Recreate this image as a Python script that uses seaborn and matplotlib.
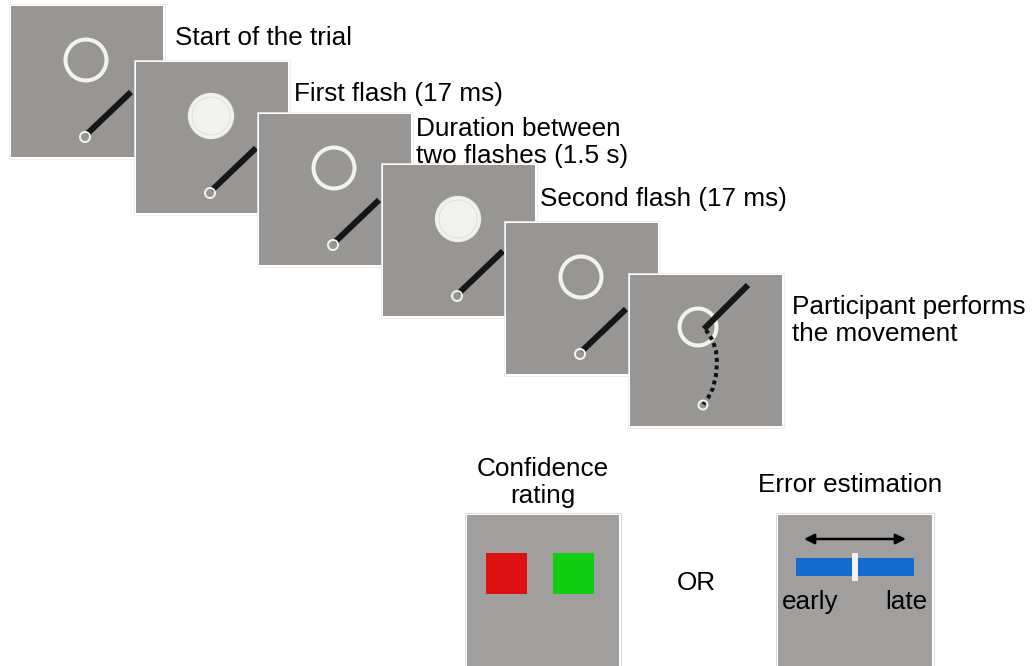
import numpy as np
import matplotlib
matplotlib.use("Agg")
import matplotlib.pyplot as plt
import seaborn as sns
from matplotlib.patches import Rectangle, Circle, FancyArrowPatch

# trial stages, in order of appearance
stage_labels = ["Start of the trial", "First flash (17 ms)",
                "Duration between\ntwo flashes (1.5 s)", "Second flash (17 ms)",
                "", "Participant performs\nthe movement"]
stage_target = ["ring", "disk", "ring", "disk", "ring", "ring_moved"]

# response screens
response_titles = ["Confidence\nrating", "Error estimation"]
confidence_colors = ["#dd1111", "#11cd11"]
scale_labels = ["early", "late"]

# hand path in last frame (panel-relative pixels)
path_x = [76, 83, 86, 87, 86, 83, 78, 73]
path_y = [55, 66, 76, 87, 100, 113, 123, 130]

# layout (pixels)
W, H = 1032, 666
panel_x = [11, 136, 259, 383, 506, 630]
panel_y = [6, 62, 114, 165, 223, 275]
label_x = [175, 294, 416, 540, None, 792]
label_base = [45, 101, 136, 206, None, 314]
PS = 152
GRAY = "#979694"
LIGHT = "#f3f3ee"
FS = 18.8
px = 72 / 100  # points per pixel

sns.set_theme(style="white")
plt.rcParams["font.family"] = ["Liberation Sans", "DejaVu Sans"]
plt.rcParams["text.color"] = "black"

fig = plt.figure(figsize=(W / 100, H / 100), dpi=100)
ax = fig.add_axes([0, 0, 1, 1])
ax.set_xlim(0, W)
ax.set_ylim(H, 0)
ax.axis("off")


def panel(x0, y0, w, h, color=GRAY, edge="#e6e6e6"):
    ax.add_patch(Rectangle((x0 - 2, y0 - 2), w + 4, h + 4, facecolor="white",
                           edgecolor=edge, lw=0.5, zorder=z[0]))
    ax.add_patch(Rectangle((x0, y0), w, h, facecolor=color, edgecolor="none",
                           zorder=z[0] + 0.1))


z = [1]
for i, kind in enumerate(stage_target):
    x0, y0 = panel_x[i], panel_y[i]
    panel(x0, y0, PS, PS - 1)
    zz = z[0] + 0.2
    if kind == "ring_moved":
        cx, cy = x0 + 68, y0 + 52
        ax.add_patch(Circle((cx, cy), 18.5, fill=False, edgecolor=LIGHT,
                            lw=4 * px, zorder=zz))
        ax.plot([x0 + p for p in path_x], [y0 + p for p in path_y],
                color="#111111", lw=4 * px, ls=(0, (1, 0.9)),
                solid_capstyle="butt", dash_capstyle="butt", zorder=zz + 0.1)
        ax.plot([x0 + 74, x0 + 118], [y0 + 54, y0 + 10], color="#161616",
                lw=6 * px, solid_capstyle="butt", zorder=zz + 0.2)
        ax.add_patch(Circle((x0 + 73, y0 + 130), 4.5, fill=False,
                            edgecolor=LIGHT, lw=2 * px, zorder=zz + 0.3))
    else:
        cx, cy = x0 + 75, y0 + 54
        if kind == "ring":
            ax.add_patch(Circle((cx, cy), 20.5, fill=False, edgecolor=LIGHT,
                                lw=4 * px, zorder=zz))
        else:
            ax.add_patch(Circle((cx, cy), 22.5, facecolor="#f2f2f1",
                                edgecolor="#ecece6", lw=1, zorder=zz))
            ax.add_patch(Circle((cx, cy), 19, fill=False, edgecolor="#d9d9d2",
                                lw=0.5, zorder=zz + 0.05))
        ax.plot([x0 + 76, x0 + 120], [y0 + 128, y0 + 86], color="#161616",
                lw=6 * px, solid_capstyle="butt", zorder=zz + 0.1)
        ax.add_patch(Circle((x0 + 74, y0 + 131), 5, fill=False,
                            edgecolor=LIGHT, lw=2 * px, zorder=zz + 0.2))
    if stage_labels[i]:
        for k, line in enumerate(stage_labels[i].split("\n")):
            ax.text(label_x[i], label_base[i] + 27 * k, line, fontsize=FS,
                    ha="left", va="baseline", color="black", zorder=50)
    z[0] += 1

# response screens
BG2 = "#a09f9d"
z[0] = 20
panel(467, 515, 152, 170, color=BG2, edge="#cccccc")
for k, line in enumerate(response_titles[0].split("\n")):
    ax.text(543, 476 + 27 * k, line, fontsize=FS, ha="center", va="baseline",
            color="black")
for j, c in enumerate(confidence_colors):
    ax.add_patch(Rectangle((486 + 67 * j, 553), 41, 41, facecolor=c,
                           edgecolor="none", zorder=22))

ax.text(696, 590, "OR", fontsize=FS, ha="center", va="baseline", color="black")

z[0] = 30
panel(778, 515, 154, 170, color=BG2, edge="#cccccc")
ax.text(850, 492, response_titles[1], fontsize=FS, ha="center", va="baseline",
        color="black")
ax.add_patch(Rectangle((796, 558), 118, 18, facecolor="#136bcc",
                       edgecolor="none", zorder=32))
ax.add_patch(Rectangle((852, 553), 6, 28, facecolor="#f2f2f2",
                       edgecolor="none", zorder=33))
ax.add_patch(FancyArrowPatch((804, 539), (906, 539), arrowstyle="<|-|>",
                             mutation_scale=15, color="black", lw=1.8,
                             shrinkA=0, shrinkB=0, zorder=33))
ax.text(810, 609, scale_labels[0], fontsize=FS, ha="center", va="baseline",
        color="black", zorder=34)
ax.text(906, 609, scale_labels[1], fontsize=FS, ha="center", va="baseline",
        color="black", zorder=34)

fig.savefig("out.png", dpi=100, facecolor="white")
